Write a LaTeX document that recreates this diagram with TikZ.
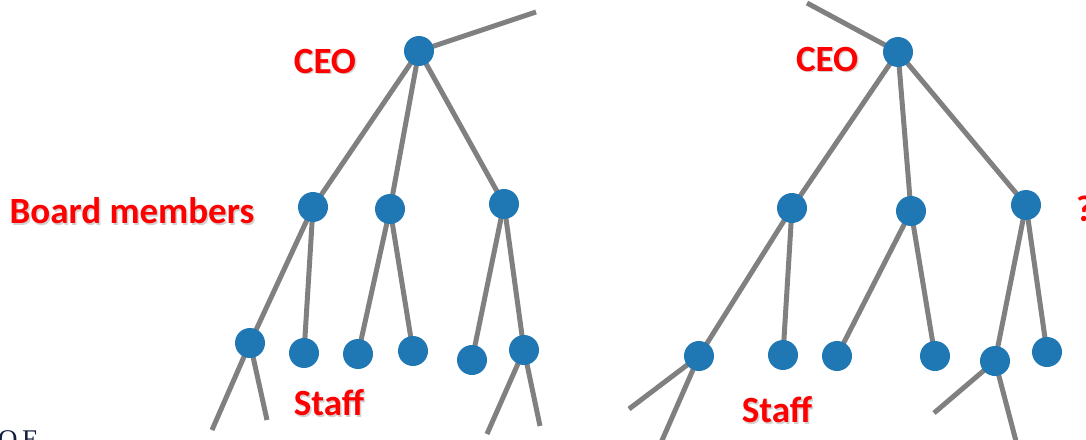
\documentclass[tikz,border=0pt]{standalone}
\usepackage{fontspec}
\setmainfont{Carlito}
\newfontfamily\serifface{Liberation Serif}
\usetikzlibrary{backgrounds,calc}
\definecolor{nodeblue}{RGB}{31,119,180}
\definecolor{edgegray}{RGB}{128,128,128}
\definecolor{labelred}{RGB}{255,0,0}
\definecolor{captionnavy}{RGB}{20,30,60}
\tikzset{
  vertex/.style={circle,fill=nodeblue,minimum size=30pt,inner sep=0pt},
  edge/.style={draw=edgegray,line width=5pt},
  tag/.style={text=labelred,font=\fontsize{37}{37}\selectfont\bfseries,inner sep=0pt},
  tagshadow/.style={text=black,opacity=0.18,font=\fontsize{37}{37}\selectfont\bfseries,inner sep=0pt},
}
\newcommand{\shadowtag}[3]{%
  \node[tagshadow] at ($(#1)+(1.5,1.5)$) {#3};
  \node[tag] (#2) at (#1) {#3};}
\begin{document}
\begin{tikzpicture}[x=1pt,y=-1pt]
\useasboundingbox (0,0) rectangle (1086,439);
\clip (0,0) rectangle (1086,439);

% ---------- left hierarchy ----------
\node[vertex] (lceo) at (419,51) {};
\node[vertex] (lb1) at (313,207) {};
\node[vertex] (lb2) at (390,209) {};
\node[vertex] (lb3) at (504,204) {};
\node[vertex] (ls1) at (250,343) {};
\node[vertex] (ls2) at (304,353) {};
\node[vertex] (ls3) at (358,354) {};
\node[vertex] (ls4) at (413,351) {};
\node[vertex] (ls5) at (472,360) {};
\node[vertex] (ls6) at (524,350) {};
\coordinate (lup) at (536,12);
\coordinate (lt1) at (212,430);
\coordinate (lt2) at (267,420);
\coordinate (lt3) at (487,434);
\coordinate (lt4) at (540,426);

% ---------- right hierarchy ----------
\node[vertex] (rceo) at (898,52) {};
\node[vertex] (rb1) at (792,208) {};
\node[vertex] (rb2) at (911,211) {};
\node[vertex] (rb3) at (1026,205) {};
\node[vertex] (rs1) at (699,356) {};
\node[vertex] (rs2) at (783,355) {};
\node[vertex] (rs3) at (837,356) {};
\node[vertex] (rs4) at (935,356) {};
\node[vertex] (rs5) at (995,361) {};
\node[vertex] (rs6) at (1047,352) {};
\coordinate (rup) at (807,3);
\coordinate (rt1) at (629,409);
\coordinate (rt2) at (660,445);
\coordinate (rt3) at (934,413);
\coordinate (rt4) at (1017,445);

\begin{scope}[on background layer]
  \foreach \a/\b in {lceo/lup,lceo/lb1,lceo/lb2,lceo/lb3,
                     lb1/ls1,lb1/ls2,lb2/ls3,lb2/ls4,lb3/ls5,lb3/ls6,
                     ls1/lt1,ls1/lt2,ls6/lt3,ls6/lt4,
                     rceo/rup,rceo/rb1,rceo/rb2,rceo/rb3,
                     rb1/rs1,rb1/rs2,rb2/rs3,rb2/rs4,rb3/rs5,rb3/rs6,
                     rs1/rt1,rs1/rt2,rs5/rt3,rs5/rt4}
    \draw[edge] (\a.center) -- (\b.center);
\end{scope}

% ---------- labels ----------
\shadowtag{325,61}{lceolabel}{CEO}
\shadowtag{132,211}{boardlabel}{Board members}
\shadowtag{329,403}{lstafflabel}{Staff}
\shadowtag{827,59}{rceolabel}{CEO}
\shadowtag{777,410}{rstafflabel}{Staff}
\node[tag,anchor=west] (qmark) at (1076,209) {?};

\node[anchor=north west,inner sep=0pt,text=captionnavy,
      font=\serifface\fontsize{27}{27}\selectfont] (caption) at (-2,430) {O\,E};
\end{tikzpicture}
\end{document}
